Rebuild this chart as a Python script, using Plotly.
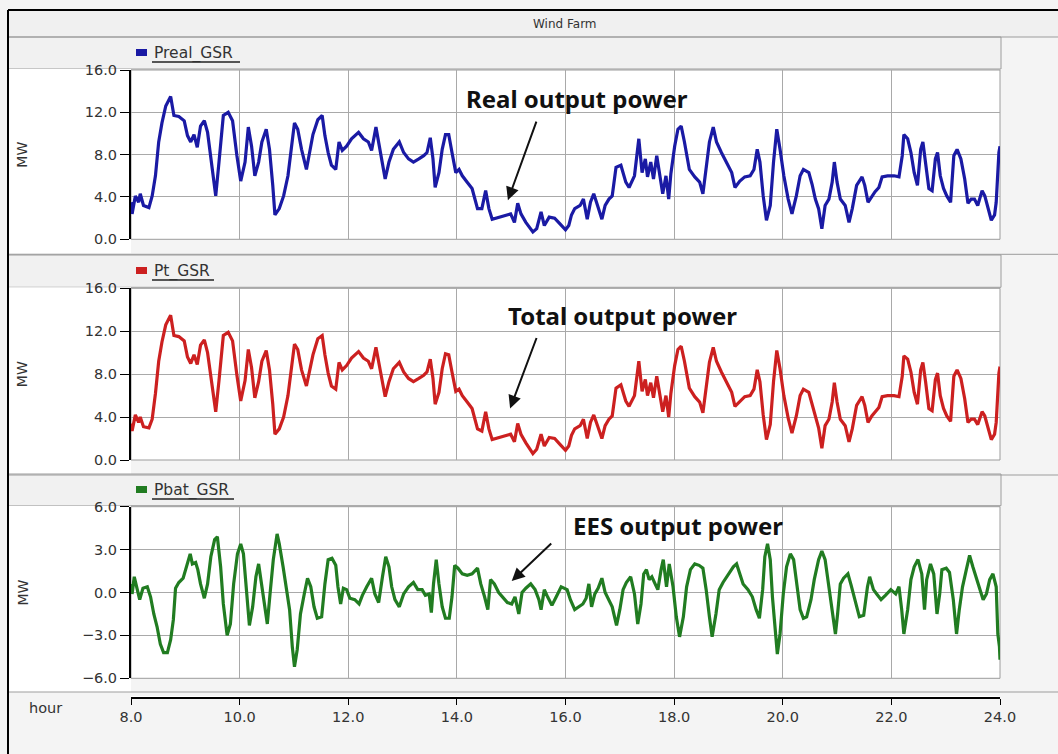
import plotly.graph_objects as go

# ---------------- data ----------------
preal_hours = [8.00, 8.02, 8.08, 8.14, 8.17, 8.23, 8.33, 8.39, 8.45, 8.51, 8.57, 8.64, 8.73, 8.79, 8.88,
               8.98, 9.04, 9.10, 9.16, 9.22, 9.28, 9.35, 9.41, 9.48, 9.56, 9.62, 9.70, 9.79, 9.87, 9.95,
               10.02, 10.10, 10.16, 10.22, 10.28, 10.35, 10.41, 10.49, 10.55, 10.61, 10.65, 10.73, 10.81,
               10.89, 10.95, 11.01, 11.07, 11.14, 11.23, 11.29, 11.35, 11.44, 11.52, 11.57, 11.63, 11.69,
               11.77, 11.83, 11.89, 11.97, 12.06, 12.19, 12.28, 12.37, 12.43, 12.51, 12.56, 12.62, 12.68,
               12.75, 12.83, 12.94, 13.02, 13.11, 13.20, 13.30, 13.39, 13.45, 13.51, 13.56, 13.60, 13.67,
               13.73, 13.79, 13.85, 13.91, 13.98, 14.04, 14.10, 14.19, 14.28, 14.38, 14.46, 14.53, 14.59,
               14.65, 14.78, 14.90, 14.99, 15.06, 15.12, 15.18, 15.27, 15.40, 15.47, 15.55, 15.61, 15.70,
               15.80, 15.89, 16.00, 16.06, 16.11, 16.17, 16.27, 16.33, 16.40, 16.46, 16.52, 16.59, 16.67,
               16.73, 16.80, 16.86, 16.93, 17.02, 17.11, 17.17, 17.27, 17.35, 17.41, 17.47, 17.51, 17.57,
               17.62, 17.68, 17.73, 17.79, 17.85, 17.90, 17.94, 18.01, 18.07, 18.13, 18.19, 18.28, 18.38,
               18.47, 18.53, 18.59, 18.65, 18.72, 18.78, 18.87, 18.96, 19.06, 19.12, 19.21, 19.30, 19.40,
               19.47, 19.53, 19.58, 19.64, 19.70, 19.77, 19.83, 19.89, 19.95, 20.02, 20.10, 20.17, 20.25,
               20.32, 20.38, 20.48, 20.54, 20.60, 20.66, 20.72, 20.78, 20.85, 20.91, 20.95, 21.00, 21.06,
               21.15, 21.22, 21.28, 21.36, 21.46, 21.51, 21.57, 21.64, 21.70, 21.77, 21.83, 21.93, 22.05,
               22.14, 22.20, 22.23, 22.30, 22.36, 22.42, 22.48, 22.54, 22.58, 22.63, 22.69, 22.75, 22.81,
               22.85, 22.90, 22.96, 23.02, 23.09, 23.15, 23.21, 23.28, 23.35, 23.41, 23.47, 23.53, 23.59,
               23.67, 23.72, 23.78, 23.84, 23.90, 23.93, 23.98, 24.00]
preal_mw = [3.5, 2.4, 4.1, 3.5, 4.3, 3.2, 3.0, 4.1, 6.0, 9.2, 11.0, 12.6, 13.5, 11.7, 11.6,
            11.2, 9.8, 9.2, 9.9, 8.7, 10.7, 11.2, 10.1, 7.3, 4.1, 7.3, 11.7, 12.0, 11.2, 7.9,
            5.5, 7.3, 10.6, 8.8, 6.0, 7.3, 9.2, 10.4, 8.5, 5.1, 2.3, 2.9, 4.1,
            6.0, 8.8, 11.0, 10.4, 8.5, 6.6, 8.2, 9.9, 11.3, 11.7, 9.8, 8.2, 7.0,
            6.6, 9.2, 8.4, 8.8, 9.5, 10.1, 9.5, 9.2, 8.4, 10.6, 9.2, 7.3, 5.7,
            7.3, 8.5, 9.2, 8.2, 7.6, 7.3, 7.6, 7.9, 8.2, 9.6, 7.6, 4.9, 6.3,
            8.5, 9.9, 9.9, 8.2, 6.3, 6.6, 6.0, 5.4, 4.8, 2.9, 2.9, 4.6, 2.9,
            1.9, 2.1, 2.3, 2.4, 1.6, 3.4, 2.4, 1.6, 0.7, 1.0, 2.6, 1.3, 2.1,
            2.0, 1.5, 0.9, 1.3, 2.3, 2.9, 3.2, 3.8, 1.9, 3.5, 4.3, 3.2, 1.9,
            3.2, 3.8, 4.1, 6.8, 7.0, 5.4, 4.9, 6.0, 9.5, 6.3, 7.6, 5.9, 7.3,
            5.7, 7.9, 6.3, 4.3, 6.0, 3.8, 6.2, 8.8, 10.4, 10.7, 9.2, 6.6, 5.9,
            5.4, 4.3, 6.6, 9.2, 10.6, 9.2, 8.2, 7.3, 6.3, 4.9, 5.5, 5.9, 6.0,
            6.6, 8.5, 7.3, 4.1, 1.8, 3.2, 7.3, 10.4, 8.5, 6.0, 3.8, 2.4, 4.1,
            6.0, 6.6, 6.3, 5.2, 3.8, 2.9, 1.0, 3.2, 3.8, 5.4, 7.3, 5.4, 3.8,
            3.2, 1.6, 2.9, 5.1, 5.9, 5.1, 3.5, 4.1, 4.5, 4.9, 5.9, 6.0, 6.0,
            5.9, 7.9, 9.9, 9.5, 8.2, 6.3, 5.1, 8.5, 9.2, 7.3, 4.8, 4.6, 7.6,
            8.2, 6.0, 4.8, 4.1, 3.5, 7.9, 8.5, 7.6, 5.7, 3.4, 3.8, 3.8, 3.2,
            4.6, 4.1, 2.9, 1.8, 2.3, 3.5, 8.2, 8.8]

pt_hours = preal_hours
pt_mw = [3.4, 2.7, 4.2, 3.5, 4.0, 3.1, 3.0, 3.8, 6.2, 9.2, 11.0, 12.6, 13.5, 11.6, 11.5,
         11.1, 9.6, 9.0, 9.8, 8.9, 10.7, 11.2, 10.0, 7.5, 4.5, 7.4, 11.6, 11.9, 11.1, 7.9,
         5.5, 7.4, 10.3, 8.6, 5.8, 7.3, 9.2, 10.2, 8.4, 5.2, 2.4, 2.9, 4.0,
         6.0, 8.7, 10.8, 10.3, 8.4, 6.9, 8.2, 9.8, 11.3, 11.6, 9.8, 8.1, 6.9,
         6.6, 9.1, 8.4, 8.8, 9.5, 10.1, 9.5, 9.2, 8.5, 10.5, 9.1, 7.3, 5.9,
         7.3, 8.5, 9.1, 8.2, 7.6, 7.3, 7.6, 7.9, 8.2, 9.4, 7.6, 5.2, 6.3,
         8.5, 9.9, 9.8, 8.2, 6.4, 6.6, 6.0, 5.4, 4.8, 2.9, 2.7, 4.5, 2.9,
         1.9, 2.1, 2.3, 2.4, 1.7, 3.4, 2.4, 1.6, 0.6, 1.0, 2.4, 1.3, 2.1,
         2.0, 1.5, 0.9, 1.3, 2.3, 2.9, 3.2, 3.8, 2.0, 3.5, 4.2, 3.2, 2.0,
         3.2, 3.8, 4.1, 6.7, 7.0, 5.5, 5.0, 6.0, 9.2, 6.4, 7.5, 6.0, 7.2,
         5.8, 7.8, 6.3, 4.5, 6.0, 4.0, 6.2, 8.8, 10.3, 10.6, 9.2, 6.7, 5.9,
         5.4, 4.4, 6.6, 9.1, 10.5, 9.2, 8.2, 7.3, 6.3, 5.0, 5.5, 5.9, 6.0,
         6.6, 8.4, 7.3, 4.2, 1.9, 3.3, 7.3, 10.2, 8.5, 6.0, 3.9, 2.5, 4.1,
         6.0, 6.6, 6.3, 5.2, 3.9, 3.0, 1.1, 3.2, 3.8, 5.4, 7.2, 5.4, 3.8,
         3.2, 1.7, 2.9, 5.1, 5.9, 5.1, 3.5, 4.1, 4.5, 4.9, 5.9, 6.0, 6.0,
         5.9, 7.8, 9.7, 9.4, 8.2, 6.3, 5.2, 8.4, 9.1, 7.3, 4.8, 4.6, 7.5,
         8.1, 6.0, 4.8, 4.1, 3.6, 7.8, 8.4, 7.6, 5.7, 3.5, 3.8, 3.8, 3.3,
         4.5, 4.1, 2.9, 1.9, 2.4, 3.5, 8.1, 8.7]

pbat_hours = [8.00, 8.02, 8.06, 8.11, 8.16, 8.22, 8.30, 8.36, 8.42, 8.48, 8.54, 8.60, 8.67, 8.73, 8.78,
              8.82, 8.88, 8.96, 9.02, 9.09, 9.13, 9.19, 9.23, 9.28, 9.35, 9.41, 9.47, 9.54, 9.59, 9.65,
              9.70, 9.77, 9.83, 9.89, 9.96, 10.02, 10.07, 10.12, 10.18, 10.24, 10.30, 10.35, 10.40, 10.46,
              10.51, 10.56, 10.62, 10.69, 10.73, 10.80, 10.86, 10.92, 10.97, 11.01, 11.06, 11.12, 11.19,
              11.25, 11.31, 11.37, 11.43, 11.51, 11.57, 11.63, 11.70, 11.77, 11.81, 11.86, 11.91, 11.97,
              12.03, 12.12, 12.20, 12.26, 12.34, 12.43, 12.49, 12.56, 12.63, 12.69, 12.75, 12.80, 12.86,
              12.94, 13.02, 13.11, 13.20, 13.28, 13.36, 13.42, 13.49, 13.53, 13.57, 13.62, 13.67, 13.73,
              13.79, 13.86, 13.91, 13.96, 14.02, 14.10, 14.19, 14.28, 14.38, 14.44, 14.51, 14.57, 14.62,
              14.69, 14.77, 14.84, 14.93, 15.01, 15.07, 15.14, 15.20, 15.27, 15.36, 15.44, 15.51, 15.55,
              15.61, 15.67, 15.75, 15.83, 15.92, 16.03, 16.09, 16.17, 16.25, 16.32, 16.38, 16.43, 16.48,
              16.54, 16.60, 16.67, 16.73, 16.80, 16.86, 16.94, 17.00, 17.06, 17.12, 17.20, 17.27, 17.33,
              17.39, 17.44, 17.49, 17.54, 17.59, 17.65, 17.70, 17.76, 17.80, 17.86, 17.91, 17.98, 18.04,
              18.10, 18.17, 18.23, 18.30, 18.38, 18.46, 18.53, 18.59, 18.65, 18.70, 18.77, 18.83, 18.90,
              18.99, 19.09, 19.15, 19.21, 19.27, 19.36, 19.44, 19.51, 19.57, 19.63, 19.67, 19.72, 19.77,
              19.81, 19.86, 19.90, 19.95, 20.01, 20.07, 20.14, 20.20, 20.26, 20.32, 20.38, 20.44, 20.52,
              20.58, 20.66, 20.72, 20.78, 20.85, 20.91, 20.97, 21.01, 21.06, 21.12, 21.20, 21.26, 21.33,
              21.41, 21.49, 21.56, 21.60, 21.67, 21.73, 21.81, 21.89, 21.99, 22.08, 22.14, 22.19, 22.23,
              22.30, 22.36, 22.42, 22.49, 22.56, 22.61, 22.65, 22.72, 22.78, 22.84, 22.89, 22.93, 23.01,
              23.07, 23.14, 23.20, 23.25, 23.31, 23.38, 23.44, 23.50, 23.56, 23.62, 23.69, 23.75, 23.81,
              23.87, 23.93, 23.96, 23.99, 24.00]
pbat_mw = [0.6, -0.1, 1.1, 0.4, -0.5, 0.3, 0.4, -0.3, -1.5, -2.4, -3.6, -4.2, -4.2, -3.3, -1.9,
           0.3, 0.7, 1.0, 1.8, 2.7, 2.0, 2.1, 1.6, 0.6, -0.4, 0.6, 2.5, 3.7, 3.9, 1.8,
           -0.8, -3.0, -2.2, 0.6, 2.7, 3.4, 2.7, 0.6, -2.3, -1.0, 1.1, 2.0, 0.6, -1.2,
           -2.2, -0.1, 2.3, 4.1, 3.4, 1.8, 0.4, -1.2, -3.8, -5.2, -4.0, -1.5, -0.1,
           1.0, 0.4, -1.0, -1.8, -1.7, 0.6, 2.3, 2.4, 1.9, 0.4, -0.8, 0.3, 0.2,
           -0.4, -0.5, -0.8, -0.2, 0.4, 1.0, -0.1, -0.7, 1.1, 2.5, 1.8, 0.4, -0.5,
           -1.0, -0.1, 0.4, 0.7, 0.2, 0.2, -0.2, -0.1, -1.4, 0.6, 2.3, 0.6, -1.0,
           -1.8, -1.8, -0.3, 1.9, 1.7, 1.3, 1.2, 1.3, 1.7, 0.6, -0.3, -1.2, 0.9,
           0.6, 0.0, -0.3, -0.7, -0.8, -0.3, -1.5, 0.0, 0.3, 0.6, 0.2, -0.5, -1.2,
           0.2, -0.3, -0.9, -0.3, 0.4, 0.2, -0.5, -1.2, -1.0, -0.8, -0.4, 0.6, -1.0,
           -0.1, 0.3, 1.0, 0.0, -0.5, -1.0, -2.3, -1.2, 0.2, 0.7, 1.1, -0.1, -2.2,
           -0.8, 1.3, 1.6, 0.9, 1.1, 0.6, 0.2, 1.6, 2.3, 0.4, 2.0, 0.4, -1.7,
           -3.1, -1.7, 0.4, 1.6, 2.0, 1.9, 1.7, 0.2, -1.7, -3.1, -1.5, 0.2, 0.7,
           1.2, 1.8, 2.0, 1.2, 0.6, 0.2, -0.3, -1.2, -1.8, 0.2, 2.5, 3.4, 2.3,
           -0.3, -2.9, -4.3, -2.9, -0.1, 1.8, 2.7, 2.3, 0.6, -1.2, -1.8, -1.7, -0.5,
           0.9, 2.3, 2.9, 2.3, 0.4, -1.2, -2.9, -1.5, 0.6, 1.0, 1.3, 0.5, -0.5,
           -1.7, -1.6, 0.4, 1.1, 0.2, -0.1, -0.5, -0.2, 0.2, -0.1, 0.4, -1.2, -2.9,
           -1.2, 0.9, 1.8, 2.3, 1.3, -1.2, 0.9, 2.0, 1.3, -1.5, -0.1, 1.6, 1.7,
           1.4, -0.5, -2.9, -1.2, 0.4, 1.6, 2.6, 1.8, 1.1, 0.4, -0.5, -0.1, 0.9,
           1.3, 0.4, -2.9, -3.8, -4.7]

x_ticks = [8, 10, 12, 14, 16, 18, 20, 22, 24]
x_tick_labels = ["8.0", "10.0", "12.0", "14.0", "16.0", "18.0", "20.0", "22.0", "24.0"]

# ---------------- page geometry (pixels) ----------------
W, H = 1058, 754


def px(x):
    return x / W


def py(y):
    return 1 - y / H


PLOT_L, PLOT_R = 131, 1000
panels = [
    dict(name="Preal_GSR", x=preal_hours, y=preal_mw, color="#1a1aa4", top=70, bot=239.3,
         head=37, rng=[0, 16], dtick=4, ul=88),
    dict(name="Pt_GSR", x=pt_hours, y=pt_mw, color="#cc2020", top=288.3, bot=460,
         head=255, rng=[0, 16], dtick=4, ul=62),
    dict(name="Pbat_GSR", x=pbat_hours, y=pbat_mw, color="#217c21", top=506.7, bot=678.3,
         head=474, rng=[-6, 6], dtick=3, ul=82),
]

GRID = "#a9a9a9"
FRAME = "#9c9c9c"
TXT = "#333333"
SANS = "DejaVu Sans, Verdana, sans-serif"
TICKFONT = dict(family=SANS, size=14.5, color=TXT)

fig = go.Figure()
shapes = []
annotations = []
layout = {}


def label(x, y, text, size, **kw):
    annotations.append(dict(xref="paper", yref="paper", x=px(x), y=py(y), text=text,
                            showarrow=False, xanchor=kw.pop("xanchor", "center"),
                            yanchor="middle", font=dict(family=SANS, size=size, color=TXT), **kw))


# title bar
shapes.append(dict(type="rect", xref="paper", yref="paper", x0=px(8), x1=1.0, y0=py(10), y1=py(37),
                   fillcolor="#f0f0f0", line_width=0, layer="below"))
shapes.append(dict(type="line", xref="paper", yref="paper", x0=px(8), x1=1.0, y0=py(37), y1=py(37),
                   line=dict(color=FRAME, width=1)))
label(565, 24, "Wind Farm", 12)

for i, p in enumerate(panels, start=1):
    xa = "x" if i == 1 else f"x{i}"
    ya = "y" if i == 1 else f"y{i}"
    fig.add_trace(go.Scatter(x=p["x"], y=p["y"], mode="lines", name=p["name"], xaxis=xa, yaxis=ya,
                             line=dict(color=p["color"], width=3.2), showlegend=False))
    layout[f"xaxis{'' if i == 1 else i}"] = dict(
        domain=[px(PLOT_L), px(PLOT_R)], anchor=ya, range=[8, 24], tickvals=x_ticks,
        showticklabels=False, ticks="", showgrid=True, gridcolor=GRID, gridwidth=1,
        showline=False, zeroline=False, fixedrange=True, automargin=False)
    layout[f"yaxis{'' if i == 1 else i}"] = dict(
        domain=[py(p["bot"]), py(p["top"])], anchor=xa, range=p["rng"], dtick=p["dtick"],
        tick0=p["rng"][0], tickformat=".1f", showgrid=True, gridcolor=GRID, gridwidth=1,
        zeroline=False, showline=True, linecolor="black", linewidth=2, ticks="outside",
        ticklen=9, tickcolor="black", tickwidth=1, tickfont=TICKFONT, fixedrange=True,
        automargin=False)

    # panel header strip
    shapes.append(dict(type="rect", xref="paper", yref="paper", x0=px(8), x1=px(1001),
                       y0=py(p["top"] - 1), y1=py(p["head"]), fillcolor="#f1f1f1",
                       line=dict(color=FRAME, width=1), layer="below"))
    # white panel body left of plot
    shapes.append(dict(type="rect", xref="paper", yref="paper", x0=px(9), x1=px(PLOT_L),
                       y0=py(p["bot"] + 14), y1=py(p["top"] - 1), fillcolor="white",
                       line_width=0, layer="below"))
    # plot frame
    shapes.append(dict(type="rect", xref=f"{xa} domain", yref=f"{ya} domain", x0=0, x1=1, y0=0, y1=1,
                       line=dict(color=FRAME, width=1), layer="below"))
    # separator under the panel
    sep = p["bot"] + 15 if i < 3 else 692
    shapes.append(dict(type="line", xref="paper", yref="paper", x0=px(8), x1=1.0, y0=py(sep), y1=py(sep),
                       line=dict(color=FRAME, width=1)))

    # legend: coloured square + underlined name
    ly = p["head"] + 16
    shapes.append(dict(type="rect", xref="paper", yref="paper", x0=px(136), x1=px(147),
                       y0=py(ly + 3), y1=py(ly - 4), fillcolor=p["color"], line_width=0))
    label(152, ly, p["name"], 15.5, xanchor="left")
    shapes.append(dict(type="line", xref="paper", yref="paper", x0=px(152), x1=px(152 + p["ul"]),
                       y0=py(ly + 9), y1=py(ly + 9), line=dict(color="#222222", width=1.5)))

    # y-axis title
    label(22, (p["top"] + p["bot"]) / 2, "MW", 14, textangle=-90)

# shared hour axis below the panels
fig.add_trace(go.Scatter(x=[8, 24], y=[0, 0], mode="markers", marker=dict(opacity=0),
                         xaxis="x4", yaxis="y4", showlegend=False, hoverinfo="skip"))
layout["xaxis4"] = dict(domain=[px(PLOT_L), px(PLOT_R)], anchor="y4", range=[8, 24],
                        tickvals=x_ticks, ticktext=x_tick_labels, showgrid=False, zeroline=False,
                        showline=True, linecolor="black", linewidth=2, ticks="outside", ticklen=6,
                        tickcolor="black", tickfont=TICKFONT, fixedrange=True, automargin=False)
layout["yaxis4"] = dict(domain=[py(697), py(696)], anchor="x4", visible=False, range=[0, 1],
                        fixedrange=True)
label(45, 708, "hour", 14.5)

# outer black frame
shapes.append(dict(type="line", xref="paper", yref="paper", x0=px(8), x1=1.0, y0=py(10), y1=py(10),
                   line=dict(color="black", width=2)))
shapes.append(dict(type="line", xref="paper", yref="paper", x0=px(8), x1=px(8), y0=py(10), y1=0,
                   line=dict(color="black", width=2)))

# callouts pointing at the curves
BOLD = dict(family="Noto Sans, Open Sans, sans-serif", size=24, color="#111111")
callouts = [
    ("Real output power", "x", "y", 16.22, 13.35, 14.94, 3.7, 29, -80),
    ("Total output power", "x2", "y2", 17.05, 13.5, 14.98, 4.8, 27, -72),
    ("EES output power", "x3", "y3", 18.07, 4.72, 15.01, 0.8, 41, -39),
]
for text, xr, yr, tx, ty, hx, hy, ax, ay in callouts:
    annotations.append(dict(xref=xr, yref=yr, x=tx, y=ty, text=f"<b>{text}</b>", showarrow=False,
                            xanchor="center", yanchor="middle", font=BOLD))
    annotations.append(dict(xref=xr, yref=yr, x=hx, y=hy, ax=ax, ay=ay, text="", showarrow=True,
                            arrowhead=2, arrowsize=1.3, arrowwidth=2, arrowcolor="#111111"))

fig.update_layout(
    width=W, height=H, margin=dict(l=0, r=0, t=0, b=0, autoexpand=False),
    paper_bgcolor="#f4f4f4", plot_bgcolor="white",
    shapes=shapes, annotations=annotations, showlegend=False, **layout,
)

# the page body gets no default margin so the figure sits at the window origin
fig.write_html("out.html",
               post_script="document.body.style.margin='0';document.body.style.overflow='hidden';")
